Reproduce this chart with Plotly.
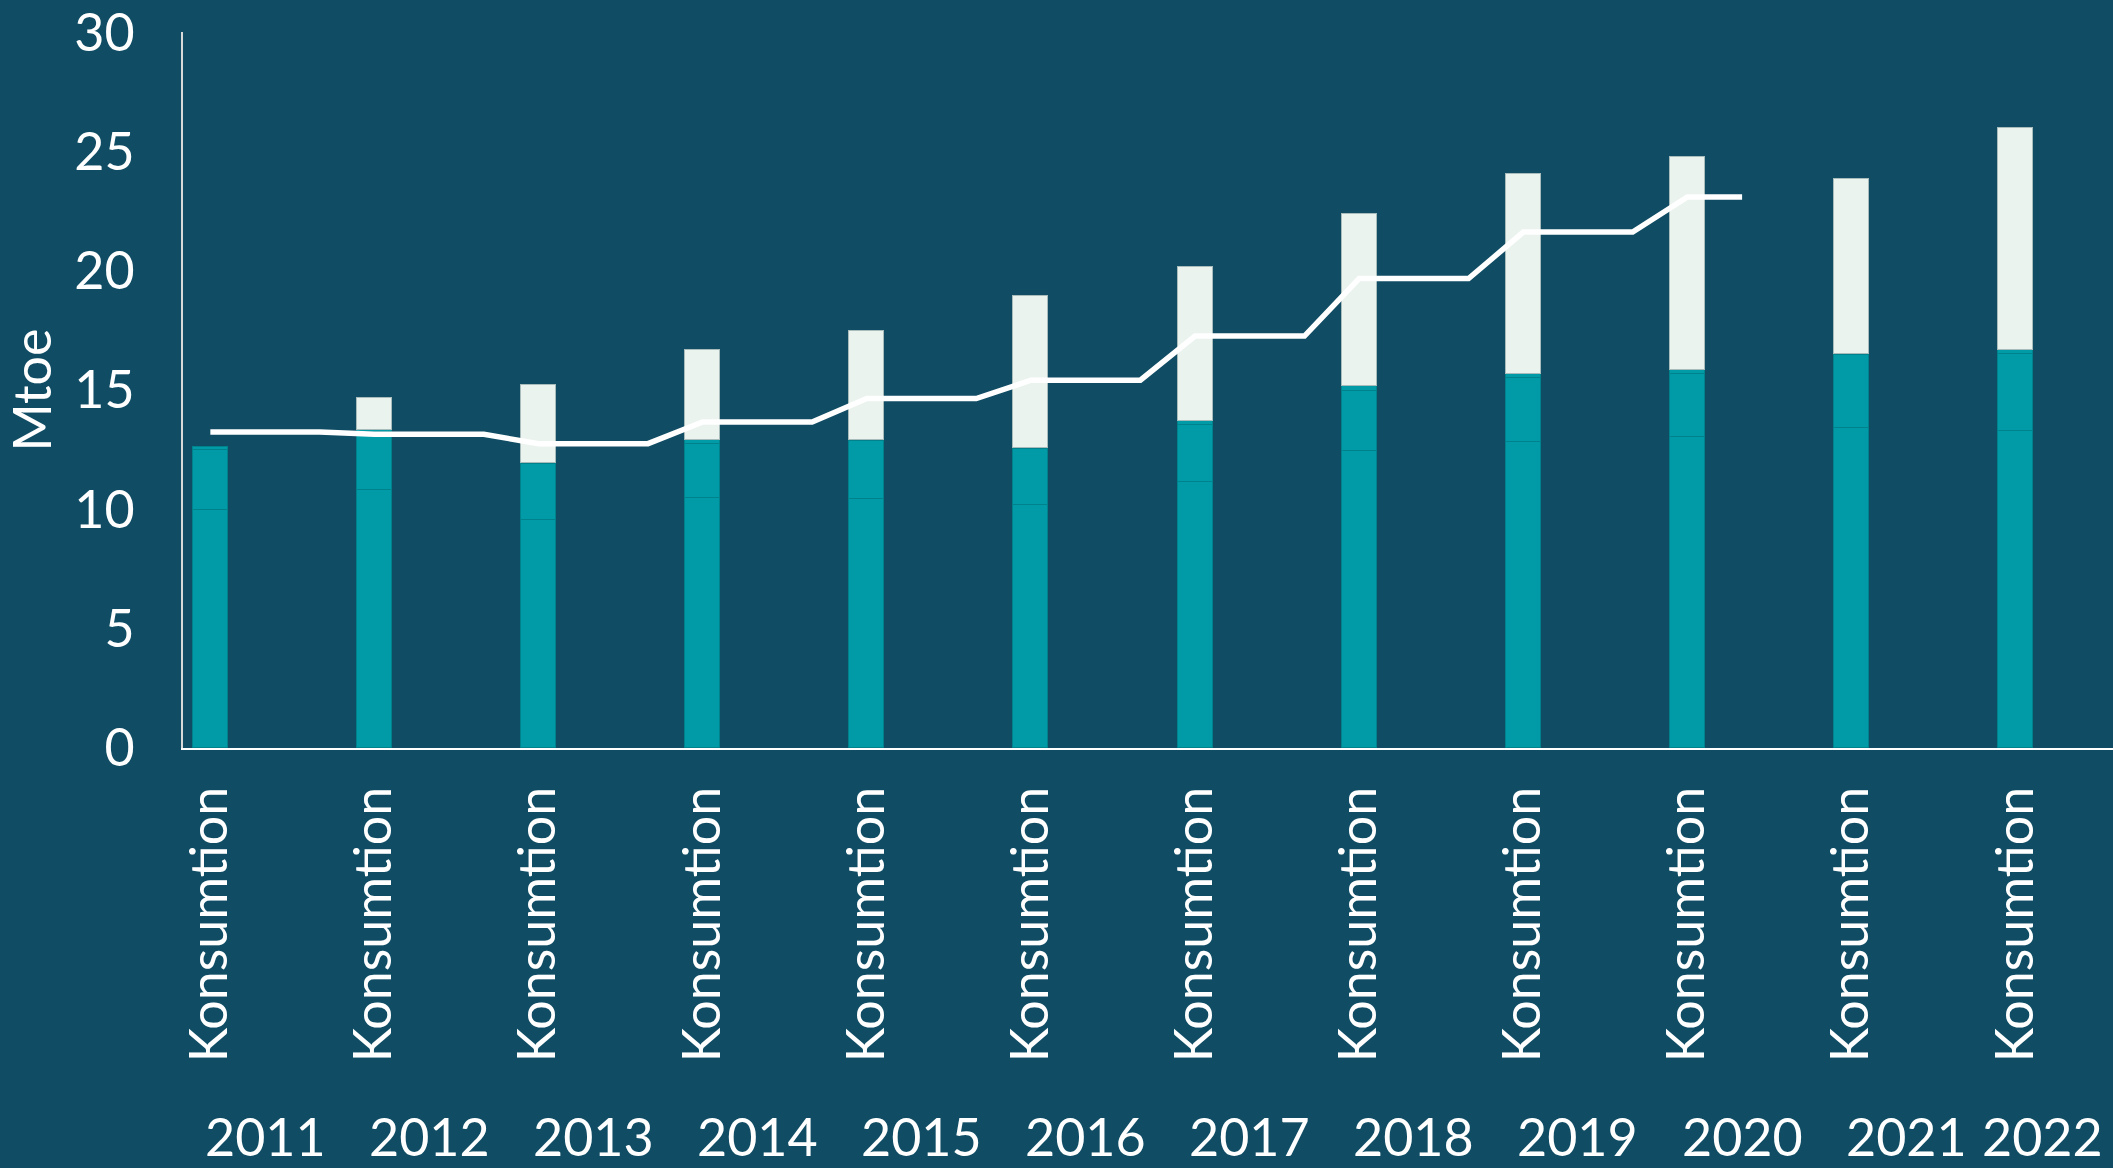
import plotly.graph_objects as go

years = ["2011", "2012", "2013", "2014", "2015", "2016", "2017", "2018", "2019", "2020", "2021", "2022"]
category = "Konsumtion"
slots_per_year = [3, 3, 3, 3, 3, 3, 3, 3, 3, 3, 3, 2]

# stacked bar segments (Mtoe), bottom to top
seg_base = [9.97, 10.80, 9.54, 10.50, 10.44, 10.17, 11.16, 12.44, 12.81, 13.02, 13.43, 13.31]
seg_mid = [2.54, 2.45, 2.35, 2.25, 2.43, 2.36, 2.40, 2.53, 2.70, 2.66, 3.05, 3.22]
seg_thin = [0.09, 0.10, 0.05, 0.17, 0.05, 0.05, 0.17, 0.20, 0.19, 0.18, 0.05, 0.14]
seg_top = [None, 1.33, 3.30, 3.75, 4.58, 6.39, 6.45, 7.24, 8.36, 8.91, 7.32, 9.33]

# line (Mtoe), drawn across each year's slots
line_values = [13.25, 13.15, 12.76, 13.67, 14.65, 15.42, 17.27, 19.68, 21.63, 23.10]
line_slots = [3, 3, 3, 3, 3, 3, 3, 3, 3, 2]

y_ticks = [0, 5, 10, 15, 20, 25, 30]

BG = "#104d64"
TEAL = "#009ba6"
TEAL_EDGE = "#00828c"
LIGHT = "#eaf3ee"
FONT = "Lato"

# slot positions
starts = []
s = 0
for n in slots_per_year:
    starts.append(s)
    s += n
bar_x = starts
group_centers = [st + (n - 1) / 2 for st, n in zip(starts, slots_per_year)]

line_x, line_y = [], []
for i, (v, n) in enumerate(zip(line_values, line_slots)):
    for j in range(n):
        line_x.append(starts[i] + j)
        line_y.append(v)

fig = go.Figure()
for vals, col, edge in [(seg_base, TEAL, TEAL_EDGE), (seg_mid, TEAL, TEAL_EDGE),
                        (seg_thin, TEAL, TEAL_EDGE), (seg_top, LIGHT, "#a9bcbc")]:
    fig.add_trace(go.Bar(x=bar_x, y=vals, width=0.64, marker=dict(color=col, line=dict(color=edge, width=1)),
                         showlegend=False, hoverinfo="y"))

fig.add_trace(go.Scatter(x=line_x, y=line_y, mode="lines", line=dict(color="white", width=5.5),
                         showlegend=False, cliponaxis=False))

for g, y in zip(group_centers, years):
    fig.add_annotation(x=g, xref="x", y=0, yref="y", yshift=-388, text=y, showarrow=False,
                       yanchor="middle", xanchor="center", font=dict(family=FONT, size=52, color="white"))

total_slots = sum(slots_per_year)
fig.update_layout(
    width=2113, height=1168,
    paper_bgcolor=BG, plot_bgcolor=BG,
    barmode="stack", bargap=0,
    margin=dict(l=183, r=0, t=32, b=420),
    font=dict(family=FONT, color="white", size=52),
    xaxis=dict(
        range=[-0.5, total_slots - 0.5 + 0.28],
        tickmode="array", tickvals=bar_x, ticktext=[category] * len(bar_x),
        tickangle=-90, showgrid=False, zeroline=False,
        showline=True, linecolor="white", linewidth=2,
        ticks="", ticklabelstandoff=16,
        tickfont=dict(family=FONT, size=52, color="white"),
    ),
    yaxis=dict(
        range=[0, 30.02], tickmode="array", tickvals=y_ticks, ticktext=[str(t) for t in y_ticks],
        showgrid=False, zeroline=False,
        showline=True, linecolor="#d9d9d9", linewidth=2,
        ticks="", ticklabelstandoff=36, ticklabeloverflow="allow",
        tickfont=dict(family=FONT, size=52, color="white"),
        title=dict(text="Mtoe", standoff=30, font=dict(family=FONT, size=52, color="white")),
    ),
)

fig.write_html("out.html", config={"displayModeBar": False},
               post_script="document.body.style.margin='0';document.body.style.background='#104d64';")
